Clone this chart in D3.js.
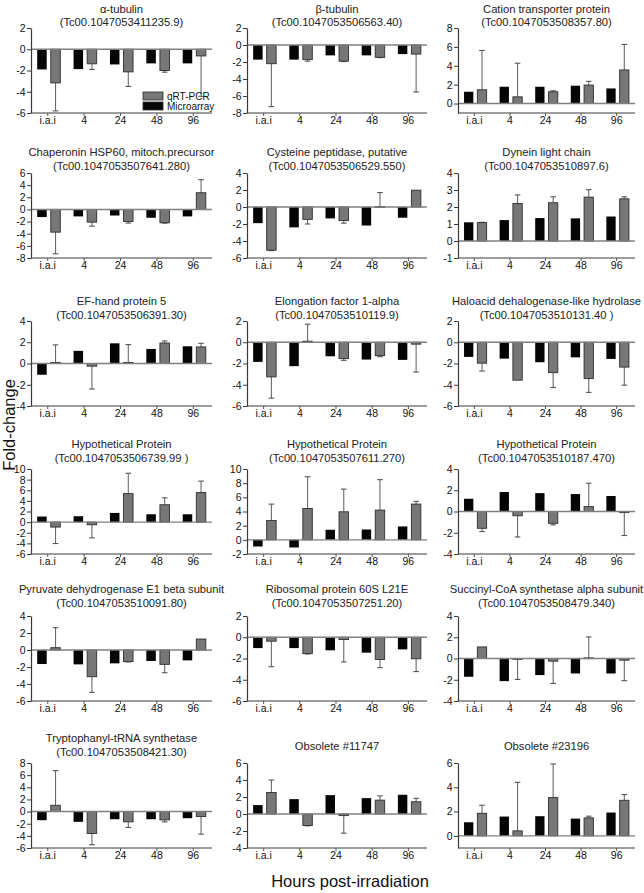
<!DOCTYPE html>
<html><head><meta charset="utf-8">
<script src="https://cdn.jsdelivr.net/npm/d3@7"></script>
<style>
body{margin:0;background:#fff}
svg{display:block}
text{font-family:"Liberation Sans",Arial,sans-serif}
</style>
</head><body>
<svg id="chart" width="644" height="893"></svg>
<script>
const categories = ["i.a.i","4","24","48","96"];
const seriesNames = ["Microarray","qRT-PCR"];

const titles = [
  ["α-tubulin","(Tc00.1047053411235.9)"],
  ["β-tubulin","(Tc00.1047053506563.40)"],
  ["Cation transporter protein","(Tc00.1047053508357.80)"],
  ["Chaperonin HSP60, mitoch.precursor","(Tc00.1047053507641.280)"],
  ["Cysteine peptidase, putative","(Tc00.1047053506529.550)"],
  ["Dynein light chain","(Tc00.1047053510897.6)"],
  ["EF-hand protein 5","(Tc00.1047053506391.30)"],
  ["Elongation factor 1-alpha","(Tc00.1047053510119.9)"],
  ["Haloacid dehalogenase-like hydrolase","(Tc00.1047053510131.40 )"],
  ["Hypothetical Protein","(Tc00.1047053506739.99 )"],
  ["Hypothetical Protein","(Tc00.1047053507611.270)"],
  ["Hypothetical Protein","(Tc00.1047053510187.470)"],
  ["Pyruvate dehydrogenase E1 beta subunit","(Tc00.1047053510091.80)"],
  ["Ribosomal protein 60S L21E","(Tc00.1047053507251.20)"],
  ["Succinyl-CoA synthetase alpha subunit","(Tc00.1047053508479.340)"],
  ["Tryptophanyl-tRNA synthetase","(Tc00.1047053508421.30)"],
  ["Obsolete #11747"],
  ["Obsolete #23196"]
];

const microarray = [
  [-1.9,-1.87,-1.43,-1.33,-1.33],
  [-1.72,-1.72,-1.22,-1.22,-1.07],
  [1.25,1.78,1.78,1.89,1.6],
  [-1.26,-1.15,-1.0,-1.37,-1.15],
  [-1.9,-2.4,-1.34,-2.18,-1.26],
  [1.1,1.23,1.35,1.33,1.44],
  [-1.06,1.19,1.9,1.37,1.62],
  [-1.85,-2.25,-1.32,-1.63,-1.66],
  [-1.38,-1.54,-1.88,-1.42,-1.57],
  [1.05,1.11,1.73,1.48,1.48],
  [-0.94,-1.08,1.42,1.46,1.89],
  [1.2,1.83,1.73,1.64,1.46],
  [-1.65,-1.69,-1.57,-1.29,-1.22],
  [-1.02,-1.02,-1.23,-1.45,-1.14],
  [-1.72,-2.13,-1.56,-1.41,-1.41],
  [-1.42,-1.69,-1.26,-1.26,-1.09],
  [1.05,1.75,2.22,1.87,2.26],
  [1.12,1.59,1.62,1.42,1.92]
];

const qrtpcr = [
  [-3.17,-1.37,-2.13,-2.0,-0.63],
  [-2.2,-1.72,-1.9,-1.45,-1.07],
  [1.46,0.71,1.25,1.96,3.56],
  [-3.74,-2.09,-1.98,-2.2,2.75],
  [-5.08,-1.45,-1.6,0.05,1.98],
  [1.08,2.21,2.25,2.58,2.48],
  [0.1,-0.25,0.1,1.93,1.56],
  [-3.26,0.1,-1.54,-1.26,-0.18],
  [-1.97,-3.57,-2.86,-3.42,-2.34],
  [-0.93,-0.5,5.37,3.27,5.56],
  [2.74,4.43,3.96,4.2,5.05],
  [-1.58,-0.4,-1.11,0.46,-0.1],
  [0.27,-3.14,-1.37,-1.69,1.29],
  [-0.37,-1.54,-0.22,-2.09,-2.03],
  [1.09,-0.02,-0.25,0.06,-0.16],
  [1.04,-3.61,-1.69,-1.37,-0.82],
  [2.53,-1.36,-0.19,1.63,1.44],
  [1.86,0.41,3.15,1.48,2.93]
];

const qrtError = [
  [2.63,0.53,1.37,0.16,3.8],
  [5.05,0.18,0.05,0.03,4.45],
  [4.16,3.56,0.1,0.39,2.7],
  [3.57,0.66,0.27,0.05,2.15],
  [0.05,0.55,0.3,1.65,0],
  [0.02,0.5,0.35,0.44,0.12],
  [1.65,2.15,1.68,0.19,0.34],
  [2.0,1.6,0.16,0.1,2.62],
  [0.74,0,1.4,1.3,1.7],
  [3.1,2.46,3.83,1.3,2.16],
  [2.3,4.48,3.2,4.3,0.38],
  [0.31,2.0,0.15,2.2,2.16],
  [2.35,1.84,0.03,0.98,0],
  [2.4,0.03,2.1,0.77,1.2],
  [0,1.95,2.1,1.97,1.93],
  [5.7,1.85,0.93,0.33,2.9],
  [1.47,0.03,2.07,0.5,0.4],
  [0.66,4.0,2.77,0.14,0.47]
];

const yDomains = [
  [-6,2],[-8,2],[-1,8],
  [-8,6],[-6,4],[-1,4],
  [-4,4],[-6,2],[-6,2],
  [-6,10],[-2,10],[-4,4],
  [-6,4],[-6,2],[-4,4],
  [-6,8],[-4,6],[-1,6]
];

const yTicks = [
  [-6,-4,-2,0,2],[-8,-6,-4,-2,0,2],[0,2,4,6,8],
  [-8,-6,-4,-2,0,2,4,6],[-6,-4,-2,0,2,4],[-1,0,1,2,3,4],
  [-4,-2,0,2,4],[-6,-4,-2,0,2],[-6,-4,-2,0,2],
  [-6,-4,-2,0,2,4,6,8,10],[-2,0,2,4,6,8,10],[-4,-2,0,2,4],
  [-6,-4,-2,0,2,4],[-6,-4,-2,0,2],[-4,-2,0,2,4],
  [-6,-4,-2,0,2,4,6,8],[-4,-2,0,2,4,6],[0,2,4,6]
];

const xAxisTitle = "Hours post-irradiation";
const yAxisTitle = "Fold-change";

// ---- layout ----
const colLeft = [31, 247, 458];
const colRight = [212, 427, 635];
const rowTop = [28, 173, 321, 469, 616, 763];
const titleLines = [[9,22],[152,166],[301,315],[444,458],[589,603],[738,752]];
const plotH = 85;

const svg = d3.select("#chart");
svg.append("rect").attr("width",644).attr("height",893).attr("fill","#fff");

const colorMicro = "#050505";
const colorQrt = "#777777";

titles.forEach((t, i) => {
  const r = Math.floor(i/3), c = i%3;
  const w = colRight[c] - colLeft[c];
  const cx = colLeft[c] + w/2;
  if (t.length === 2) {
    t.forEach((line, k) => {
      svg.append("text").attr("x", cx).attr("y", titleLines[r][k] + 4)
        .attr("text-anchor","middle").attr("font-size", 11.2).attr("fill","#222").text(line);
    });
  } else {
    svg.append("text").attr("x", cx).attr("y", (titleLines[r][0]+titleLines[r][1])/2 + 5)
      .attr("text-anchor","middle").attr("font-size", 11.2).attr("fill","#222").text(t[0]);
  }

  const g = svg.append("g").attr("transform", `translate(${colLeft[c]},${rowTop[r]})`);
  const y = d3.scaleLinear().domain(yDomains[i]).range([plotH, 0]);
  const x0 = d3.scaleBand().domain(categories).range([0, w]).paddingInner(0.365).paddingOuter(0.17);
  const x1 = d3.scaleBand().domain(seriesNames).range([0, x0.bandwidth()]).paddingInner(0.3);

  g.selectAll("rect.m").data(microarray[i]).join("rect")
    .attr("x", (d,j) => x0(categories[j]) + x1("Microarray"))
    .attr("y", d => y(Math.max(d,0)))
    .attr("width", x1.bandwidth())
    .attr("height", d => Math.abs(y(d) - y(0)))
    .attr("fill", colorMicro);

  const eb = g.append("g");
  qrtpcr[i].forEach((v, j) => {
    const e = qrtError[i][j];
    if (e <= 0) return;
    const s = v >= 0 ? 1 : -1;
    const xc = x0(categories[j]) + x1("qRT-PCR") + x1.bandwidth()/2;
    eb.append("line").attr("x1", xc).attr("x2", xc)
      .attr("y1", y(v)).attr("y2", y(v + s*e))
      .attr("stroke", "#6a6a6a").attr("stroke-width", 1.1);
    eb.append("line").attr("x1", xc-2.8).attr("x2", xc+2.8)
      .attr("y1", y(v + s*e)).attr("y2", y(v + s*e))
      .attr("stroke", "#555").attr("stroke-width", 1.1);
  });

  g.selectAll("rect.q").data(qrtpcr[i]).join("rect")
    .attr("x", (d,j) => x0(categories[j]) + x1("qRT-PCR"))
    .attr("y", d => y(Math.max(d,0)))
    .attr("width", x1.bandwidth())
    .attr("height", d => Math.max(Math.abs(y(d) - y(0)), 0.8))
    .attr("fill", colorQrt).attr("stroke", "#2e2e2e").attr("stroke-width", 0.9);

  g.append("line").attr("x1", 0).attr("x2", w).attr("y1", y(0)).attr("y2", y(0))
    .attr("stroke", "#808080").attr("stroke-width", 1.4);

  g.append("line").attr("x1", 0).attr("x2", w).attr("y1", plotH).attr("y2", plotH)
    .attr("stroke", "#3a3a3a").attr("stroke-width", 1.2);

  const xAxis = d3.axisBottom(x0).tickSize(3).tickSizeOuter(0).tickPadding(1);
  const xg = g.append("g").attr("transform", `translate(-1,${plotH})`).call(xAxis);
  xg.select(".domain").remove();
  xg.selectAll(".tick line").attr("stroke", "#555");
  xg.selectAll(".tick text").attr("font-size", 10.5).attr("fill", "#111")
    .attr("font-family", "Liberation Sans, Arial, sans-serif");

  const yAxis = d3.axisLeft(y).tickValues(yTicks[i]).tickSize(4).tickSizeOuter(0)
    .tickPadding(1.5).tickFormat(d => String(d));
  const yg = g.append("g").call(yAxis);
  yg.select(".domain").attr("stroke", "#3a3a3a").attr("stroke-width", 1.2);
  yg.selectAll(".tick line").attr("stroke", "#3a3a3a");
  yg.selectAll(".tick text").attr("font-size", 10.5).attr("fill", "#111")
    .attr("font-family", "Liberation Sans, Arial, sans-serif");

  if (i === 0) {
    const lg = g.append("g").attr("transform", `translate(${w-69},${plotH-21})`);
    const items = [["qRT-PCR", colorQrt], ["Microarray", colorMicro]];
    items.forEach((it, k) => {
      lg.append("rect").attr("x", 0).attr("y", k*10).attr("width", 20).attr("height", 8)
        .attr("fill", it[1]).attr("stroke", "#2e2e2e").attr("stroke-width", 0.8);
      lg.append("text").attr("x", 24).attr("y", k*10 + 7.5).attr("font-size", 10)
        .attr("fill", "#111").text(it[0]);
    });
  }
});

svg.append("text").attr("x", 350).attr("y", 887).attr("text-anchor","middle")
  .attr("font-size", 16.5).attr("fill","#111").text(xAxisTitle);
svg.append("text").attr("transform", "translate(15,425) rotate(-90)")
  .attr("text-anchor","middle").attr("font-size", 16.5).attr("fill","#111").text(yAxisTitle);
</script>
</body></html>
